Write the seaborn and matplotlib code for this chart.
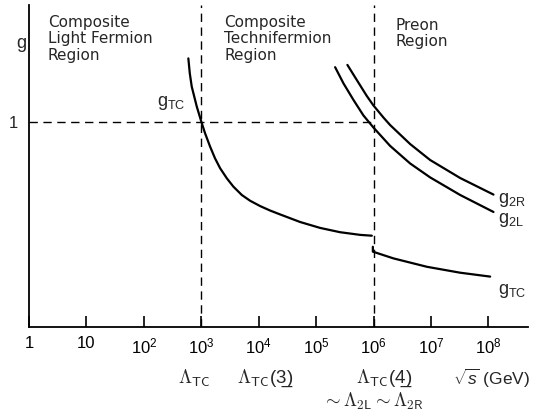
import numpy as np
import pandas as pd
import seaborn as sns
import matplotlib.pyplot as plt

# curve data: exponent of sqrt(s) in GeV (log10) and coupling g
tc_low_exp = [2.775, 2.8, 2.834, 2.922, 3.009, 3.066, 3.153, 3.24, 3.328, 3.444, 3.559,
              3.706, 3.85, 4.024, 4.199, 4.373, 4.721, 5.07, 5.418, 5.767, 5.97]
tc_low_g = [1.311, 1.238, 1.173, 1.075, 0.994, 0.945, 0.88, 0.822, 0.774, 0.725, 0.684,
            0.643, 0.615, 0.589, 0.567, 0.548, 0.511, 0.482, 0.461, 0.448, 0.444]
tc_high_exp = [5.988, 5.988, 6.347, 6.929, 7.509, 8.031]
tc_high_g = [0.39, 0.366, 0.333, 0.292, 0.263, 0.244]
g2r_exp = [5.545, 5.709, 5.883, 5.998, 6.172, 6.289, 6.638, 6.986, 7.509, 8.089]
g2r_g = [1.279, 1.205, 1.127, 1.081, 1.022, 0.985, 0.892, 0.814, 0.726, 0.645]
g2l_exp = [5.331, 5.476, 5.65, 5.824, 5.998, 6.289, 6.638, 6.986, 7.509, 8.089]
g2l_g = [1.268, 1.189, 1.108, 1.032, 0.973, 0.883, 0.797, 0.729, 0.643, 0.56]

tick_exp = [0, 1, 2, 3, 4, 5, 6, 7, 8]
tick_labels = ["1", "10", "$10^2$", "$10^3$", "$10^4$", "$10^5$", "$10^6$", "$10^7$", "$10^8$"]

sns.set_style("ticks")
plt.rcParams["font.family"] = ["Liberation Sans", "DejaVu Sans"]
plt.rcParams["mathtext.fontset"] = "custom"
plt.rcParams["mathtext.rm"] = "Liberation Sans"
plt.rcParams["mathtext.it"] = "Liberation Sans:italic"
plt.rcParams["mathtext.bf"] = "Liberation Sans:bold"

fig = plt.figure(figsize=(5.41, 4.17), dpi=100)
ax = fig.add_axes([29 / 541, 90.5 / 417, 499 / 541, 321.5 / 417])

curves = [(tc_low_exp, tc_low_g), (tc_high_exp, tc_high_g), (g2r_exp, g2r_g), (g2l_exp, g2l_g)]
for xs, ys in curves:
    df = pd.DataFrame({"s": 10.0 ** np.array(xs), "g": ys})
    sns.lineplot(data=df, x="s", y="g", ax=ax, color="black", lw=1.6,
                 sort=False, estimator=None)

ax.set_xscale("log")
ax.set_xlim(1, 10 ** 8.69)
ax.set_ylim(0, 1.572)

# region boundaries and g = 1 guide
dash = (0, (6, 4))
ax.axvline(1e3, color="black", lw=1.0, ls=dash)
ax.axvline(1e6, color="black", lw=1.0, ls=dash)
ax.plot([1, 1e6], [1, 1], color="black", lw=1.0, ls=dash)

ax.set_xticks([10.0 ** e for e in tick_exp])
ax.set_xticklabels(tick_labels, fontsize=12)
ax.xaxis.set_minor_locator(plt.NullLocator())
ax.tick_params(axis="x", direction="in", length=8, width=1.2, pad=7, colors="black")
ax.set_yticks([1])
ax.set_yticklabels(["1"], fontsize=12)
ax.tick_params(axis="y", length=0, pad=8)
ax.set_xlabel("")
ax.set_ylabel("")
sns.despine(ax=ax)
for side in ["left", "bottom"]:
    ax.spines[side].set_linewidth(1.3)
    ax.spines[side].set_color("black")

ax.text(10 ** -0.139, 1.386, "g", fontsize=13, ha="center", va="center", clip_on=False)

region_kw = dict(fontsize=11, ha="left", va="top", linespacing=1.15, family="DejaVu Sans")
ax.text(10 ** 0.33, 1.525, "Composite\nLight Fermion\nRegion", **region_kw)
ax.text(10 ** 3.40, 1.525, "Composite\nTechnifermion\nRegion", **region_kw)
ax.text(10 ** 6.38, 1.51, "Preon\nRegion", **region_kw)

ax.text(10 ** 2.47, 1.093, r"$\mathrm{g}_{\mathrm{TC}}$", fontsize=13, ha="center", va="center")
ax.text(10 ** 8.17, 0.618, r"$\mathrm{g}_{\mathrm{2R}}$", fontsize=13, ha="left", va="center")
ax.text(10 ** 8.17, 0.521, r"$\mathrm{g}_{\mathrm{2L}}$", fontsize=13, ha="left", va="center")
ax.text(10 ** 8.17, 0.174, r"$\mathrm{g}_{\mathrm{TC}}$", fontsize=13, ha="left", va="center")

lam_kw = dict(fontsize=13.5, ha="center", va="center", clip_on=False, math_fontfamily="cm")
ax.text(10 ** 2.88, -0.252, "$\\Lambda_{\\mathsf{TC}}$", **lam_kw)
ax.text(10 ** 4.11, -0.252, "$\\Lambda_{\\mathsf{TC}}$(3\u0332)", **lam_kw)
ax.text(10 ** 6.18, -0.252, "$\\Lambda_{\\mathsf{TC}}$(4\u0332)", **lam_kw)
ax.text(10 ** 5.98, -0.365, "$\\sim\\Lambda_{\\mathsf{2L}}\\sim\\Lambda_{\\mathsf{2R}}$", **lam_kw)
ax.text(10 ** 8.05, -0.252, "$\\sqrt{s}$ (GeV)", fontsize=12.5, ha="center", va="center",
        clip_on=False)

fig.savefig("out.png", dpi=100)
